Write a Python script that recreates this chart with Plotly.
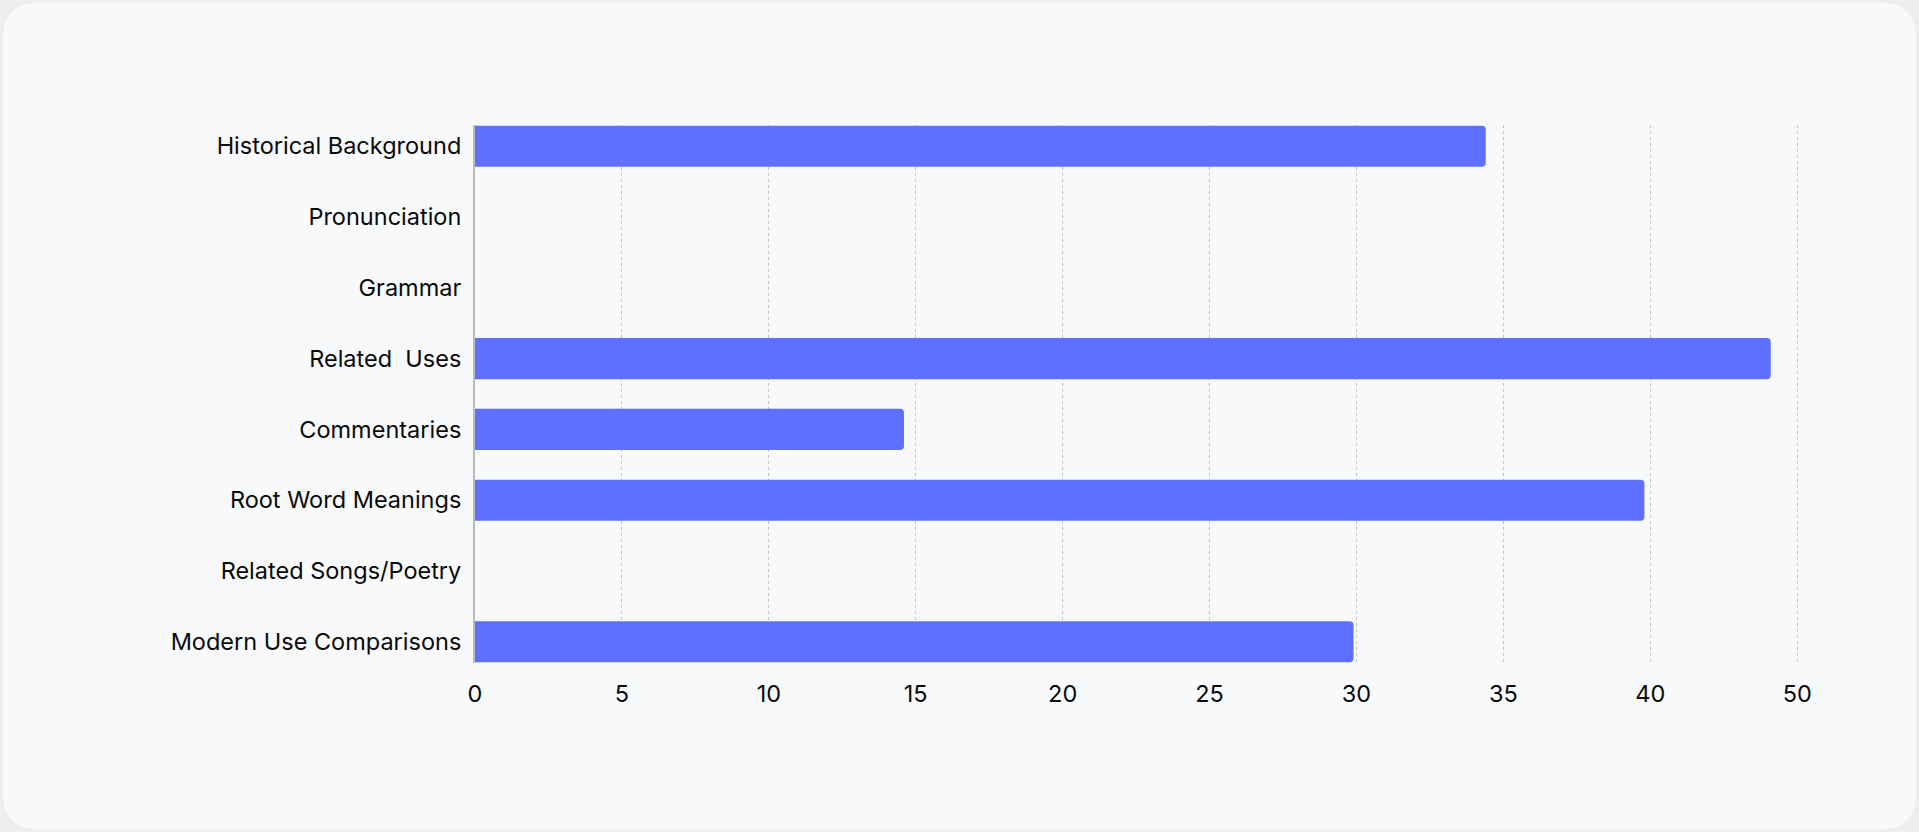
import plotly.graph_objects as go

# Data
categories = [
    "Historical Background",
    "Pronunciation",
    "Grammar",
    "Related  Uses",
    "Commentaries",
    "Root Word Meanings",
    "Related Songs/Poetry",
    "Modern Use Comparisons",
]
values = [34.4, 0, 0, 44.1, 14.6, 39.8, 0, 29.9]

tick_vals = [0, 5, 10, 15, 20, 25, 30, 35, 40, 45]
tick_text = ["0", "5", "10", "15", "20", "25", "30", "35", "40", "50"]

W, H = 1919, 832
m_l, m_r, m_t, m_b = 475, 113, 125, 169

fig = go.Figure(go.Bar(
    x=values,
    y=categories,
    orientation="h",
    marker=dict(color="#5F6FFF", cornerradius=4, line=dict(width=0)),
    hoverinfo="x+y",
))

# rounded card behind the chart, built in paper coords from pixel positions
pw, ph = W - m_l - m_r, H - m_t - m_b


def px(x):
    return (x - m_l) / pw


def py(y):
    return (H - m_b - y) / ph


x0, y0, x1, y1, r = 3, 3, W - 3, H - 3, 36
card = (
    f"M {px(x0 + r)},{py(y0)} L {px(x1 - r)},{py(y0)} "
    f"Q {px(x1)},{py(y0)} {px(x1)},{py(y0 + r)} "
    f"L {px(x1)},{py(y1 - r)} Q {px(x1)},{py(y1)} {px(x1 - r)},{py(y1)} "
    f"L {px(x0 + r)},{py(y1)} Q {px(x0)},{py(y1)} {px(x0)},{py(y1 - r)} "
    f"L {px(x0)},{py(y0 + r)} Q {px(x0)},{py(y0)} {px(x0 + r)},{py(y0)} Z"
)

fig.update_layout(
    width=W,
    height=H,
    margin=dict(l=m_l, r=m_r, t=m_t, b=m_b, pad=0),
    paper_bgcolor="#EEEEEF",
    plot_bgcolor="rgba(0,0,0,0)",
    font=dict(family="Inter, sans-serif", size=23.5, color="#0A0A0A"),
    bargap=0.42,
    showlegend=False,
    shapes=[dict(
        type="path", path=card, xref="paper", yref="paper",
        fillcolor="#F8F9FB", line=dict(width=0), layer="below",
    )],
    xaxis=dict(
        range=[0, 45.3],
        tickvals=tick_vals,
        ticktext=tick_text,
        showgrid=True,
        gridcolor="#C2C2C2",
        gridwidth=1,
        griddash="dot",
        zeroline=False,
        showline=False,
        ticks="",
        ticklabelstandoff=14,
    ),
    yaxis=dict(
        range=[7.3, -0.3],
        showgrid=False,
        zeroline=False,
        showline=True,
        linecolor="#BBBBBB",
        linewidth=2,
        ticks="",
        ticklabelstandoff=7,
    ),
)

fig.write_html(
    "out.html",
    config={"displayModeBar": False},
    post_script="document.body.style.margin='0';document.body.style.overflow='hidden';",
)
